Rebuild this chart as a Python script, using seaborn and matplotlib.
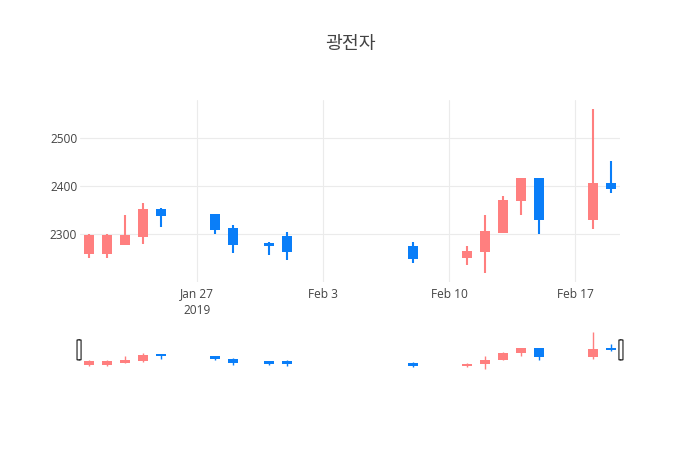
import pandas as pd
import numpy as np
import matplotlib
matplotlib.use("Agg")
import matplotlib.pyplot as plt
import matplotlib.dates as mdates
from matplotlib.patches import FancyBboxPatch
import seaborn as sns

# daily candles
dates = ["2019-01-21", "2019-01-22", "2019-01-23", "2019-01-24", "2019-01-25",
         "2019-01-28", "2019-01-29", "2019-01-31", "2019-02-01", "2019-02-08",
         "2019-02-11", "2019-02-12", "2019-02-13", "2019-02-14", "2019-02-15",
         "2019-02-18", "2019-02-19"]
open_ = [2258, 2258, 2278, 2294, 2352, 2341, 2312, 2282, 2296, 2276,
         2249, 2263, 2303, 2369, 2416, 2329, 2406]
high = [2300, 2300, 2340, 2364, 2354, 2342, 2319, 2283, 2304, 2284,
        2275, 2340, 2379, 2416, 2416, 2560, 2451]
low = [2250, 2250, 2278, 2279, 2315, 2300, 2260, 2256, 2245, 2240,
       2235, 2219, 2303, 2340, 2300, 2311, 2385]
close = [2297, 2297, 2297, 2351, 2338, 2308, 2278, 2274, 2262, 2247,
         2265, 2306, 2371, 2416, 2329, 2406, 2393]

xtick_dates = ["2019-01-27", "2019-02-03", "2019-02-10", "2019-02-17"]
xtick_labels = ["Jan 27\n2019", "Feb 3", "Feb 10", "Feb 17"]
ytick_vals = [2300, 2400, 2500]
title = "광전자"

df = pd.DataFrame({"date": pd.to_datetime(dates), "open": open_, "high": high,
                   "low": low, "close": close})
df["up"] = df["close"] >= df["open"]
df["x"] = mdates.date2num(df["date"])

up_color = "#FF7F7F"
down_color = "#0A7EF8"
text_color = "#444444"
grid_color = "#EBEBEB"

sns.set_theme(style="white")
plt.rcParams['font.family'] = ['Open Sans', 'Noto Sans CJK KR', 'DejaVu Sans']

fig = plt.figure(figsize=(7, 4.5), dpi=100, facecolor="white")
ax = fig.add_axes([80 / 700, 1 - 282 / 450, 540 / 700, 182 / 450])
ax_sl = fig.add_axes([80 / 700, 1 - 371 / 450, 540 / 700, 41 / 450])

xmin = mdates.date2num(pd.Timestamp("2019-01-20 12:00"))
xmax = mdates.date2num(pd.Timestamp("2019-02-19 12:00"))


def draw_candles(a, wick_lw, min_body):
    for up, color in [(True, up_color), (False, down_color)]:
        d = df[df["up"] == up]
        a.vlines(d["x"], d["low"], d["high"], color=color, linewidth=wick_lw, zorder=2)
        h = (d["close"] - d["open"]).abs()
        mid = (d["close"] + d["open"]) / 2
        h2 = h.clip(lower=min_body)
        a.bar(d["x"], h2, bottom=mid - h2 / 2, width=0.6,
              color=color, linewidth=0, zorder=3)


draw_candles(ax, 1.5, 2)
draw_candles(ax_sl, 1.0, 20)

for a in (ax, ax_sl):
    a.set_xlim(xmin, xmax)
    a.set_ylim(2200, 2579)
    for s in a.spines.values():
        s.set_visible(False)
    a.set_facecolor("white")

ax.set_yticks(ytick_vals)
ax.set_yticklabels([str(v) for v in ytick_vals])
ax.set_xticks(mdates.date2num(pd.to_datetime(xtick_dates)))
ax.set_xticklabels(xtick_labels, linespacing=1.35)
ax.tick_params(axis="both", length=0, labelsize=8.6, colors=text_color)
ax.tick_params(axis="x", pad=4)
ax.tick_params(axis="y", pad=2)
ax.grid(True, color=grid_color, linewidth=0.8, zorder=0)
ax.set_axisbelow(True)

ax_sl.set_xticks([])
ax_sl.set_yticks([])

# range slider handles
for hx in (-0.0055, 1.0 - 0.0020):
    ax_sl.add_patch(FancyBboxPatch((hx, 0.27), 0.0075, 0.49, boxstyle="round,pad=0,rounding_size=0.004",
                                   transform=ax_sl.transAxes, facecolor="white",
                                   edgecolor="#333333", linewidth=0.9, clip_on=False, zorder=5))

fig.text(350 / 700, 1 - 44 / 450, title, ha="center", va="center", fontsize=13.2,
         color=text_color, family=['Noto Sans CJK KR', 'DejaVu Sans'])

fig.savefig("out.png", dpi=100, facecolor="white")
